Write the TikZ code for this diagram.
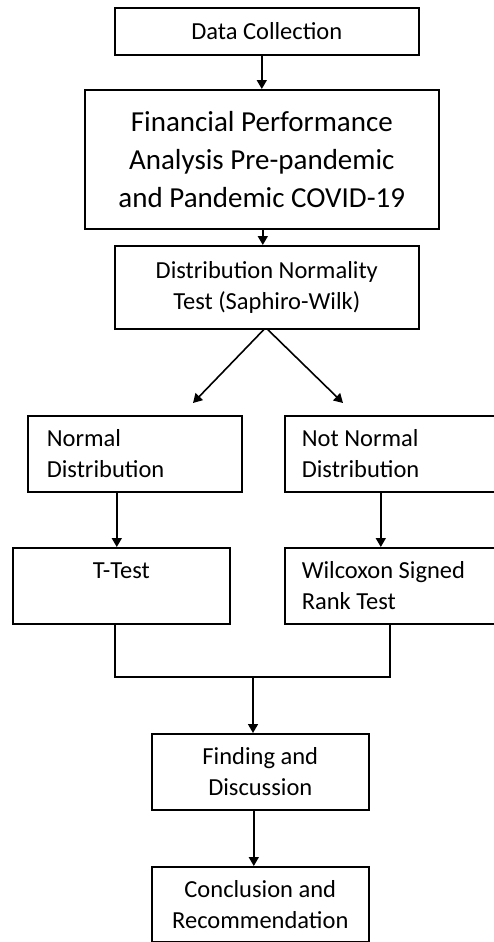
\documentclass[tikz,border=0pt]{standalone}
\usepackage{fontspec}
\setmainfont{Carlito}
\usetikzlibrary{arrows.meta,calc}
\begin{document}
\begin{tikzpicture}[x=1pt,y=-1pt,
  box/.style={draw, line width=1.6pt, anchor=north west, inner sep=0pt, align=center,
    font=\fontsize{24.5}{31}\selectfont},
  lbox/.style={box, align=flush left},
  arr/.style={line width=1.6pt, -{Triangle[length=9pt,width=10pt]}},
  ln/.style={line width=1.6pt}]
\useasboundingbox (0,0) rectangle (494,942);
\node[box, minimum width=304pt, minimum height=47pt] (dc) at (114,7) {Data Collection};
\node[box, minimum width=354pt, minimum height=139pt, font=\fontsize{29}{38}\selectfont] (fin) at (84,89)
  {Financial Performance\\Analysis Pre-pandemic\\and Pandemic COVID-19};
\node[box, minimum width=304pt, minimum height=83pt] (dist) at (114,245)
  {Distribution Normality\\Test (Saphiro-Wilk)};
\node[lbox, minimum width=214pt, minimum height=76pt, text width=176pt] (nor) at (27,415)
  {Normal\\Distribution};
\node[lbox, minimum width=230pt, minimum height=76pt, text width=196pt] (nnor) at (284,415)
  {Not Normal\\Distribution};
\node[box, minimum width=217pt, minimum height=76pt] (tt) at (12,547)
  {T-Test\\\mbox{}};
\node[lbox, minimum width=230pt, minimum height=76pt, text width=196pt] (wil) at (284,547)
  {Wilcoxon Signed\\Rank Test};
\node[box, minimum width=217pt, minimum height=76pt] (find) at (151,733)
  {Finding and\\Discussion};
\node[box, minimum width=217pt, minimum height=75pt] (conc) at (151,866)
  {Conclusion and\\Recommendation};
\coordinate (la) at (193,403);
\coordinate (ra) at (343,403);
\coordinate (mj) at (253,677);
\draw[arr] (dc.south -| fin.north) -- (fin.north);
\draw[arr] ([xshift=1pt]fin.south) -- ([xshift=1pt]fin.south |- dist.north);
\draw[arr] ([xshift=-3pt]dist.south) -- (la);
\draw[arr] ([xshift=1pt]dist.south) -- (ra);
\draw[arr] ([xshift=-18pt]nor.south) -- ([xshift=-18pt]nor.south |- tt.north);
\draw[arr] ([xshift=-19pt]nnor.south) -- ([xshift=-19pt]nnor.south |- wil.north);
\draw[ln] ([xshift=-6.5pt]tt.south) |- (mj);
\draw[ln] ([xshift=-10pt]wil.south) |- (mj);
\draw[arr] (mj) -- (mj |- find.north);
\draw[arr] ([xshift=-6.5pt]find.south) -- ([xshift=-6.5pt]find.south |- conc.north);
\end{tikzpicture}
\end{document}
